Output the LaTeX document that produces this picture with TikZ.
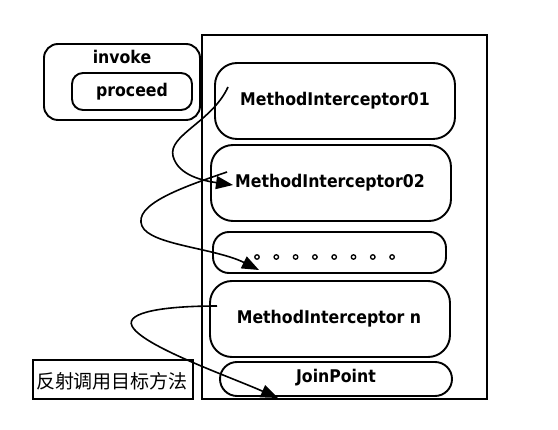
\documentclass[tikz,border=0pt]{standalone}
\usepackage{fontspec}
\setmainfont{DejaVu Sans Condensed}
\newfontfamily\cjk{Noto Sans CJK SC}
\usetikzlibrary{arrows.meta}
\begin{document}
\begin{tikzpicture}[x=1pt,y=-1pt,
  rbox/.style={draw,line width=1.9pt,rounded corners=#1},
  lbl/.style={font=\fontsize{17.5}{20}\selectfont\bfseries},
  flow/.style={line width=1.6pt,-{Triangle[length=17pt,width=13pt]}},
  dotc/.style={draw,line width=1.3pt,fill=white,circle,inner sep=0pt,minimum size=4.5pt}]
\useasboundingbox (0,0) rectangle (558,430);
% invoke / proceed
\draw[rbox=14pt] (44,44) rectangle (200,120);
\node[lbl] (invoke) at (122,57) {invoke};
\draw[rbox=11pt] (72,73) rectangle (192,110);
\node[lbl] (proceed) at (132,92) {proceed};
% outer frame
\draw[line width=1.6pt] (202,35) rectangle (487,399);
% interceptors
\draw[rbox=22pt] (215,63) rectangle (455,139);
\node[lbl] (mi1) at (335,101) {MethodInterceptor01};
\draw[rbox=22pt] (211,145) rectangle (451,221);
\node[lbl] (mi2) at (330,183) {MethodInterceptor02};
\draw[rbox=16pt] (213,232) rectangle (446,273);
\foreach \i in {0,...,7} {\node[dotc] (d\i) at (257+19.3*\i,257) {};}
\draw[rbox=22pt] (210,281) rectangle (450,357);
\node[lbl] (min) at (329,319) {MethodInterceptor n};
\draw[rbox=17pt] (220,362) rectangle (452,396);
\node[lbl] (jp) at (336,378) {JoinPoint};
% chinese label
\draw[line width=1.9pt] (33,360) rectangle (193,399);
\node[font=\cjk\fontsize{19}{22}\selectfont] (cn) at (112,381) {反射调用目标方法};
% flows
\coordinate (s1) at (228,87);
\coordinate (e1) at (233,185);
\coordinate (s2) at (227,172);
\coordinate (e2) at (259,270);
\coordinate (s3) at (217,306);
\coordinate (e3) at (278,398);
\draw[flow] (s1) .. controls (212,122) and (168,135) .. (173,156) .. controls (178,176) and (205,181) .. (e1);
\draw[flow] (s2) .. controls (180,188) and (133,205) .. (142,226) .. controls (150,245) and (215,248) .. (e2);
\draw[flow] (s3) .. controls (165,306) and (125,312) .. (132,326) .. controls (142,346) and (228,376) .. (e3);
\end{tikzpicture}
\end{document}
